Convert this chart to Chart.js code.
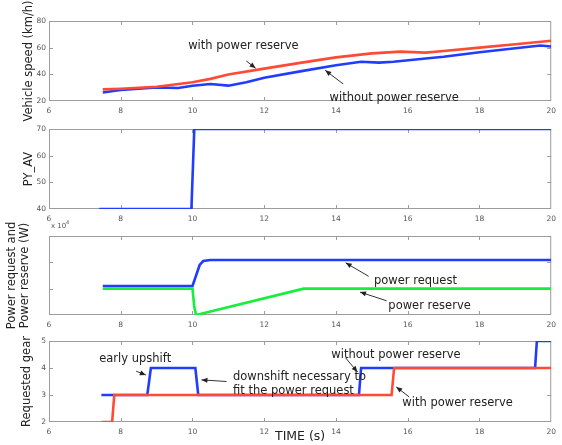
<!DOCTYPE html>
<html>
<head>
<meta charset="utf-8">
<script src="https://cdn.jsdelivr.net/npm/chart.js@4.4.0/dist/chart.umd.min.js"></script>
<style>
  html, body { margin: 0; padding: 0; background: #fff; }
  #wrap { position: relative; width: 562px; height: 445px; overflow: hidden; background: #fff; }
  #wrap canvas { position: absolute; left: 0; }
</style>
</head>
<body>
<div id="wrap">
  <canvas id="speed" width="562" height="131"></canvas>
  <canvas id="pyav" width="562" height="131"></canvas>
  <canvas id="power" width="562" height="130"></canvas>
  <canvas id="gear" width="562" height="128"></canvas>
</div>
<script>
// shared time axis (s)
const timeTicks = [6, 8, 10, 12, 14, 16, 18, 20];

// vehicle speed (km/h)
const speedTicks = [20, 40, 60, 80];
const speedWithT = [7.5, 8, 9, 10, 10.5, 11, 12, 13, 14, 15, 15.8, 16.5, 17, 18, 19, 20];
const speedWith = [28.7, 29.2, 30.7, 34, 36.6, 39.9, 44.3, 48.6, 52.7, 55.7, 57, 56.3, 57.5, 60, 62.6, 65.2];
const speedWithoutT = [7.5, 8, 9, 9.6, 10, 10.5, 11, 11.5, 12, 13, 14, 14.7, 15.2, 15.6, 16.5, 17, 18, 19, 19.7, 20];
const speedWithout = [26.4, 28.2, 30.2, 29.7, 31.5, 32.8, 31.5, 34, 37.4, 42.2, 46.8, 49.4, 48.8, 49.4, 51.9, 53.2, 56.5, 59.6, 61.6, 60.9];

// PY_AV
const pyTicks = [40, 50, 60, 70];
const pyT = [7.4, 9.97, 10.05, 20];
const pyV = [40, 40, 70, 70];

// power request / power reserve (W)
const powerTicks = [0, 10000, 20000, 30000];
const requestT = [7.5, 10.0, 10.1, 10.2, 10.3, 10.5, 20];
const request = [11000, 11000, 15000, 19000, 20500, 20900, 20900];
const reserveT = [7.5, 10.0, 10.05, 10.1, 13.1, 20];
const reserve = [10000, 10000, 3000, 0, 10000, 10000];

// requested gear
const gearTicks = [2, 3, 4, 5];
const gearWithoutT = [7.46, 8.74, 8.84, 10.08, 10.16, 14.64, 14.7, 19.55, 19.6, 20];
const gearWithout = [3, 3, 4, 4, 3, 3, 4, 4, 5, 5];
const gearWithT = [7.46, 7.76, 7.82, 15.55, 15.62, 20];
const gearWith = [2, 2, 3, 3, 4, 4];

const FONT = "'DejaVu Sans', 'Liberation Sans', sans-serif";
const RED = '#ff4a36';
const BLUE = '#1f3cff';
const GREEN = '#16ee3c';
const PAD = 25;

function toPoints(xs, ys) {
  return xs.map((x, i) => ({ x: x, y: ys[i] }));
}

function line(data, color) {
  return {
    data: data,
    borderColor: color,
    borderWidth: 2.6,
    pointRadius: 0,
    tension: 0,
    fill: false
  };
}

// matlab style box with inward ticks
const framePlugin = {
  id: 'frame',
  beforeDatasetsDraw(chart) {
    const { ctx, chartArea: a, scales } = chart;
    ctx.save();
    ctx.strokeStyle = '#9c9c9c';
    ctx.lineWidth = 1;
    ctx.strokeRect(a.left + 0.5, a.top + 0.5, a.width - 1, a.height - 1);
    ctx.beginPath();
    scales.x.ticks.forEach(t => {
      const px = Math.round(scales.x.getPixelForValue(t.value)) + 0.5;
      if (px <= a.left + 2 || px >= a.right - 2) return;
      ctx.moveTo(px, a.bottom); ctx.lineTo(px, a.bottom - 4);
      ctx.moveTo(px, a.top); ctx.lineTo(px, a.top + 4);
    });
    scales.y.ticks.forEach(t => {
      const py = Math.round(scales.y.getPixelForValue(t.value)) + 0.5;
      if (py <= a.top + 2 || py >= a.bottom - 2) return;
      ctx.moveTo(a.left, py); ctx.lineTo(a.left + 4, py);
      ctx.moveTo(a.right, py); ctx.lineTo(a.right - 4, py);
    });
    ctx.stroke();
    ctx.restore();
  }
};

function drawArrow(ctx, x1, y1, x2, y2) {
  const ang = Math.atan2(y2 - y1, x2 - x1);
  ctx.beginPath();
  ctx.moveTo(x1, y1);
  ctx.lineTo(x2, y2);
  ctx.stroke();
  ctx.beginPath();
  ctx.moveTo(x2, y2);
  ctx.lineTo(x2 - 6 * Math.cos(ang) + 2.5 * Math.sin(ang), y2 - 6 * Math.sin(ang) - 2.5 * Math.cos(ang));
  ctx.lineTo(x2 - 6 * Math.cos(ang) - 2.5 * Math.sin(ang), y2 - 6 * Math.sin(ang) + 2.5 * Math.cos(ang));
  ctx.closePath();
  ctx.fill();
}

function notesPlugin(texts, arrows, extra) {
  return {
    id: 'notes',
    afterDraw(chart) {
      const { ctx, scales: { x, y } } = chart;
      ctx.save();
      ctx.font = '11.5px ' + FONT;
      ctx.fillStyle = '#222';
      ctx.strokeStyle = '#333';
      ctx.lineWidth = 1;
      ctx.textBaseline = 'middle';
      texts.forEach(n => ctx.fillText(n.text, x.getPixelForValue(n.x), y.getPixelForValue(n.y)));
      arrows.forEach(a => drawArrow(ctx,
        x.getPixelForValue(a.x1), y.getPixelForValue(a.y1),
        x.getPixelForValue(a.x2), y.getPixelForValue(a.y2)));
      if (extra) extra(chart);
      ctx.restore();
    }
  };
}

function makeChart(id, top, datasets, yOpts, notes, xHeight, bottomPad, xTitle) {
  const cv = document.getElementById(id);
  cv.style.top = top + 'px';
  return new Chart(cv, {
    type: 'line',
    data: { datasets: datasets },
    options: {
      responsive: false,
      animation: false,
      events: [],
      layout: { padding: { top: PAD, right: 7, bottom: bottomPad, left: 0 } },
      plugins: { legend: { display: false }, tooltip: { enabled: false } },
      scales: {
        x: {
          type: 'linear',
          min: 6,
          max: 20,
          afterBuildTicks: s => { s.ticks = timeTicks.map(v => ({ value: v })); },
          afterFit: s => { s.height = xHeight; },
          grid: { display: false, drawTicks: false },
          border: { display: false },
          ticks: { padding: 6, color: '#555', font: { family: FONT, size: 7.5 } },
          title: xTitle ? {
            display: true, text: xTitle, color: '#222',
            font: { family: FONT, size: 12.5 }, padding: 0
          } : { display: false }
        },
        y: {
          type: 'linear',
          min: yOpts.ticks[0],
          max: yOpts.ticks[yOpts.ticks.length - 1],
          afterBuildTicks: s => { s.ticks = yOpts.ticks.map(v => ({ value: v })); },
          afterFit: s => { s.width = 49; },
          grid: { display: false, drawTicks: false },
          border: { display: false },
          ticks: { display: yOpts.showLabels, padding: 3, color: '#555', font: { family: FONT, size: 7.5 } },
          title: {
            display: true, text: yOpts.title, color: '#222',
            font: { family: FONT, size: 11.5, lineHeight: yOpts.lineHeight || 1.2 },
            padding: { top: yOpts.titlePad, bottom: 0 }
          }
        }
      }
    },
    plugins: [framePlugin, notes]
  });
}

makeChart('speed', 21 - PAD,
  [line(toPoints(speedWithT, speedWith), RED), line(toPoints(speedWithoutT, speedWithout), BLUE)],
  { ticks: speedTicks, title: 'Vehicle speed (km/h)', titlePad: 22, showLabels: true },
  notesPlugin(
    [{ text: 'with power reserve', x: 9.88, y: 60.9 },
     { text: 'without power reserve', x: 13.82, y: 22.5 }],
    [{ x1: 11.5, y1: 50, x2: 11.76, y2: 44.6 },
     { x1: 14.2, y1: 32.8, x2: 13.7, y2: 43 }]),
  16, 10, null);

makeChart('pyav', 129 - PAD,
  [line(toPoints(pyT, pyV), BLUE)],
  { ticks: pyTicks, title: 'PY_AV', titlePad: 22, showLabels: true },
  notesPlugin([], []),
  16, 10, null);

makeChart('power', 236 - PAD,
  [line(toPoints(reserveT, reserve), GREEN), line(toPoints(requestT, request), BLUE)],
  { ticks: powerTicks, title: ['Power request and', 'Power reserve (W)'], titlePad: 6, lineHeight: 1.1, showLabels: false },
  notesPlugin(
    [{ text: 'power request', x: 15.06, y: 12800 },
     { text: 'power reserve', x: 15.46, y: 3600 }],
    [{ x1: 14.91, y1: 14700, x2: 14.27, y2: 19800 },
     { x1: 15.41, y1: 5400, x2: 14.67, y2: 8700 }],
    chart => {
      const { ctx, chartArea: a } = chart;
      ctx.font = '7px ' + FONT;
      ctx.fillStyle = '#555';
      ctx.fillText('x 10', a.left + 2, a.top - 10);
      ctx.font = '5px ' + FONT;
      ctx.fillText('4', a.left + 17, a.top - 13);
    }),
  16, 10, null);

makeChart('gear', 341 - PAD,
  [line(toPoints(gearWithT, gearWith), RED), line(toPoints(gearWithoutT, gearWithout), BLUE)],
  { ticks: gearTicks, title: 'Requested gear', titlePad: 20, showLabels: true },
  notesPlugin(
    [{ text: 'early upshift', x: 7.4, y: 4.35 },
     { text: 'downshift necessary to', x: 11.13, y: 3.66 },
     { text: 'fit the power request', x: 11.13, y: 3.14 },
     { text: 'without power reserve', x: 13.87, y: 4.48 },
     { text: 'with power reserve', x: 15.85, y: 2.7 }],
    [{ x1: 8.43, y1: 3.88, x2: 8.7, y2: 3.74 },
     { x1: 10.95, y1: 3.5, x2: 10.25, y2: 3.56 },
     { x1: 14.27, y1: 4.37, x2: 14.6, y2: 3.85 },
     { x1: 16.04, y1: 2.93, x2: 15.68, y2: 3.3 }]),
  22, 0, 'TIME (s)');
</script>
</body>
</html>
